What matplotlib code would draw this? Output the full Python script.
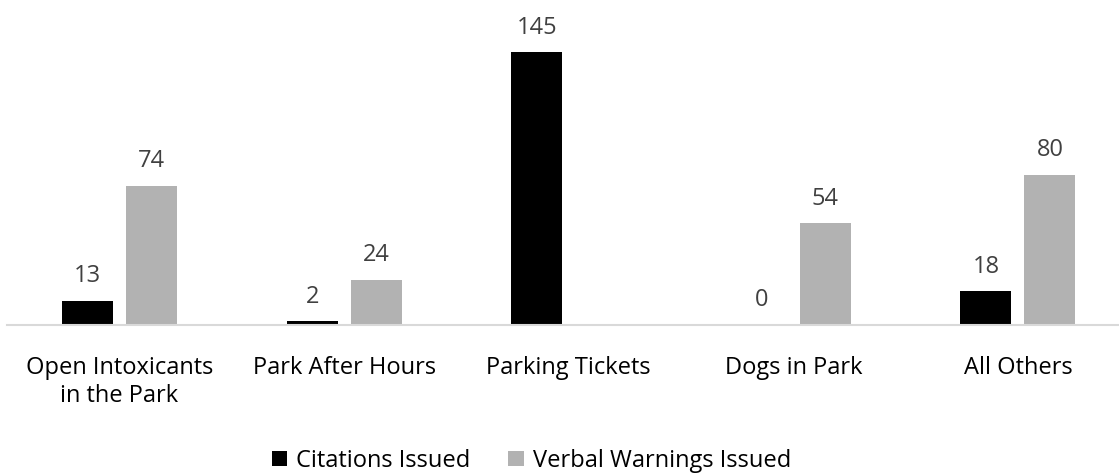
import matplotlib.pyplot as plt
import numpy as np

plt.rcParams['font.family'] = ['Open Sans', 'DejaVu Sans']

categories = ['Open Intoxicants\nin the Park', 'Park After Hours', 'Parking Tickets',
              'Dogs in Park', 'All Others']
citations = [13, 2, 145, 0, 18]
warnings = [74, 24, np.nan, 54, 80]

fig = plt.figure(figsize=(11.19, 4.75), dpi=100)
ax = fig.add_axes([7.2 / 1119, 1 - 325 / 475, 1123 / 1119, 160 * 1.881 / 475])

x = np.arange(len(categories))
w = 0.227
off = 0.1425
b1 = ax.bar(x - off, citations, w, color='black', label='Citations Issued')
b2 = ax.bar(x + off, warnings, w, color='#b2b2b2', label='Verbal Warnings Issued')

for bars, vals in [(b1, citations), (b2, warnings)]:
    for b, v in zip(bars, vals):
        if np.isnan(v):
            continue
        ax.annotate(f'{int(v)}', (b.get_x() + b.get_width() / 2, v),
                    xytext=(0, 9), textcoords='offset points',
                    ha='center', va='bottom', fontsize=17, color='#404040')

ax.set_xlim(-0.5, 4.5)
ax.set_ylim(0, 160)
ax.set_xticks(x)
ax.set_xticklabels(categories, fontsize=17, color='black', linespacing=1.25)
ax.tick_params(axis='x', length=0, pad=22)
ax.set_yticks([])
for s in ['top', 'right', 'left']:
    ax.spines[s].set_visible(False)
ax.spines['bottom'].set_color('#d9d9d9')
ax.spines['bottom'].set_linewidth(1.5)

fig.legend(handles=[b1, b2], loc='lower center', bbox_to_anchor=(0.475, -0.04), ncol=2,
           frameon=False, fontsize=17, handlelength=0.65, handleheight=0.65,
           handletextpad=0.4, columnspacing=1.6)

fig.savefig('out.png', dpi=100)
